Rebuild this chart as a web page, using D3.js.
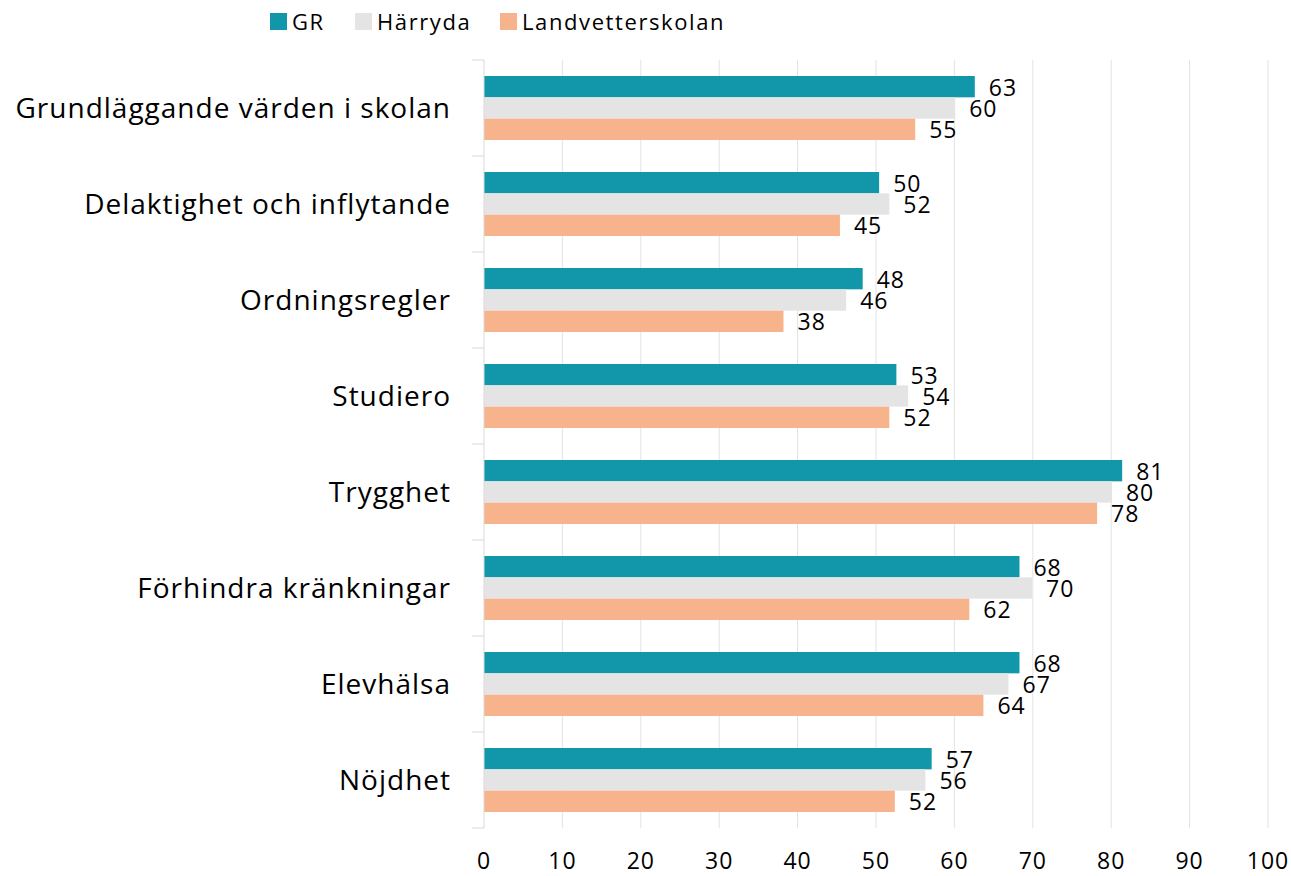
<!DOCTYPE html>
<html><head><meta charset="utf-8">
<script src="https://cdn.jsdelivr.net/npm/d3@7"></script>
<style>body{margin:0;background:#fff;} text{font-family:"Open Sans",sans-serif;}</style>
</head><body>
<svg id="c" width="1291" height="876"></svg>
<script>
const categories = ["Grundläggande värden i skolan","Delaktighet och inflytande","Ordningsregler","Studiero","Trygghet","Förhindra kränkningar","Elevhälsa","Nöjdhet"];
const seriesNames = ["GR","Härryda","Landvetterskolan"];
const grValues = [62.6,50.4,48.3,52.6,81.4,68.3,68.3,57.1];
const harrydaValues = [60.1,51.7,46.2,54.1,80.1,69.9,66.9,56.3];
const landvetterValues = [55.0,45.4,38.2,51.7,78.2,61.9,63.7,52.4];
const xTicks = [0,10,20,30,40,50,60,70,80,90,100];
const colors = ["#1197a9","#e4e4e4","#f7b38b"];

const series = [grValues, harrydaValues, landvetterValues];
const svg = d3.select("#c");
const x = d3.scaleLinear().domain([0,100]).range([484,1268]);
const y = d3.scaleBand().domain(categories).range([60,828]).paddingInner(1/3).paddingOuter(1/6);
const y1 = d3.scaleBand().domain(seriesNames).range([0,y.bandwidth()]);

// gridlines
svg.append("g").selectAll("line").data(xTicks.slice(1)).join("line")
  .attr("x1",d=>x(d)).attr("x2",d=>x(d)).attr("y1",60).attr("y2",828)
  .attr("stroke","#e3e3e3").attr("stroke-width",1);

// bars
const groups = svg.append("g").selectAll("g").data(categories).join("g")
  .attr("transform",c=>`translate(0,${y(c)})`);
groups.each(function(c,i){
  const g = d3.select(this);
  seriesNames.forEach((s,j)=>{
    const v = series[j][i];
    g.append("rect").attr("x",x(0)).attr("y",y1(s)).attr("width",x(v)-x(0)).attr("height",y1.bandwidth())
      .attr("fill",colors[j]);
  });
  seriesNames.forEach((s,j)=>{
    const v = series[j][i];
    g.append("text").attr("x",x(v)+14).attr("y",y1(s)+y1.bandwidth()/2+1).attr("dy","0.35em")
      .attr("font-size",23).attr("letter-spacing",1).attr("fill","#000").text(d3.format(".0f")(v));
  });
});

// left axis
const ya = svg.append("g").attr("transform","translate(484,0)");
ya.append("line").attr("x1",0).attr("x2",0).attr("y1",60).attr("y2",828).attr("stroke","#d9d9d9");
const bounds = categories.map(c=>y(c)-y.step()*y.paddingInner()/2).concat([828]);
ya.selectAll("line.t").data(bounds).join("line").attr("class","t")
  .attr("x1",-12).attr("x2",0).attr("y1",d=>d).attr("y2",d=>d).attr("stroke","#d9d9d9");
svg.append("g").selectAll("text").data(categories).join("text")
  .attr("x",451).attr("y",c=>y(c)+y.bandwidth()/2).attr("dy","0.35em")
  .attr("text-anchor","end").attr("font-size",28).attr("letter-spacing",1).attr("fill","#000").text(c=>c);

// bottom labels
svg.append("g").selectAll("text").data(xTicks).join("text")
  .attr("x",d=>x(d)).attr("y",861).attr("dy","0.35em").attr("text-anchor","middle")
  .attr("font-size",23).attr("letter-spacing",1).attr("fill","#000").text(d=>d);

// legend
const legX = [270,355,500];
const leg = svg.append("g");
seriesNames.forEach((s,j)=>{
  leg.append("rect").attr("x",legX[j]).attr("y",13).attr("width",17).attr("height",17).attr("fill",colors[j]);
  leg.append("text").attr("x",legX[j]+22).attr("y",22).attr("dy","0.35em").attr("font-size",22)
    .attr("letter-spacing",1.6).attr("fill","#000").text(s);
});
</script>
</body></html>
